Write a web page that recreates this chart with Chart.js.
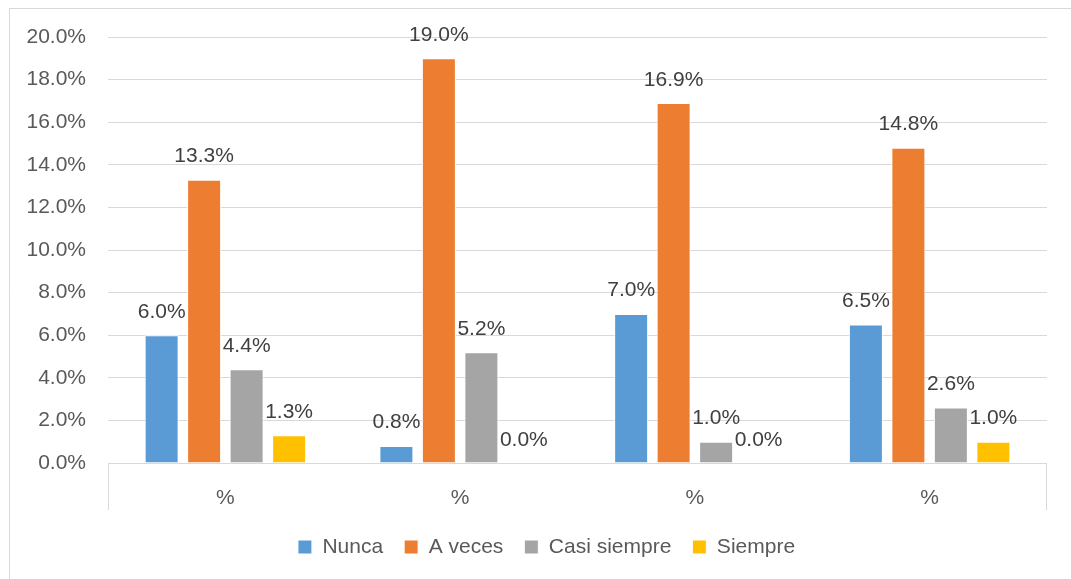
<!DOCTYPE html>
<html>
<head>
<meta charset="utf-8">
<script src="https://cdn.jsdelivr.net/npm/chart.js@4.4.1/dist/chart.umd.min.js"></script>
<style>
  html, body { margin: 0; padding: 0; background: #ffffff; }
  #wrap { position: relative; width: 1071px; height: 579px; }
</style>
</head>
<body>
<div id="wrap"><canvas id="c"></canvas></div>
<script>
const categories = ["%", "%", "%", "%"];
const nunca = [6.0, 0.8, 7.0, 6.5];
const aVeces = [13.3, 19.0, 16.9, 14.8];
const casiSiempre = [4.4, 5.2, 1.0, 2.6];
const siempre = [1.3, 0.0, 0.0, 1.0];
const seriesNames = ["Nunca", "A veces", "Casi siempre", "Siempre"];
const seriesColors = ["#5B9BD5", "#ED7D31", "#A5A5A5", "#FFC000"];
const seriesValues = [nunca, aVeces, casiSiempre, siempre];

const FONT = "'Liberation Sans', Arial, sans-serif";
const FS = 21;

const framePlugin = {
  id: 'frame',
  afterLayout(chart) {
    if (chart.legend) { chart.legend.left += 18; chart.legend.right += 18; }
  },
  beforeDraw(chart) {
    const ctx = chart.ctx;
    ctx.save();
    ctx.strokeStyle = '#d9d9d9';
    ctx.lineWidth = 1;
    ctx.beginPath();
    ctx.moveTo(9, 8.5); ctx.lineTo(1071, 8.5);
    ctx.moveTo(9.5, 8); ctx.lineTo(9.5, 579);
    ctx.stroke();
    ctx.restore();
  },
  afterDraw(chart) {
    const ctx = chart.ctx;
    const a = chart.chartArea;
    ctx.save();
    ctx.strokeStyle = '#d9d9d9';
    ctx.lineWidth = 1;
    ctx.beginPath();
    const l = Math.round(a.left) + 0.5, r = Math.round(a.right) - 0.5;
    ctx.moveTo(l, a.bottom); ctx.lineTo(l, a.bottom + 47);
    ctx.moveTo(r, a.bottom); ctx.lineTo(r, a.bottom + 47);
    ctx.stroke();
    ctx.restore();
  }
};

const labelPlugin = {
  id: 'barLabels',
  afterDatasetsDraw(chart) {
    const ctx = chart.ctx;
    ctx.save();
    ctx.font = FS + 'px ' + FONT;
    ctx.fillStyle = '#404040';
    ctx.textAlign = 'center';
    ctx.textBaseline = 'alphabetic';
    chart.data.datasets.forEach((ds, i) => {
      const meta = chart.getDatasetMeta(i);
      meta.data.forEach((bar, j) => {
        ctx.fillText(ds.data[j].toFixed(1) + '%', bar.x, bar.y - 17.5);
      });
    });
    ctx.restore();
  }
};

new Chart(document.getElementById('c'), {
  type: 'bar',
  data: {
    labels: categories,
    datasets: seriesNames.map((n, i) => ({
      label: n,
      data: seriesValues[i],
      backgroundColor: seriesColors[i],
      borderColor: '#ffffff',
      borderWidth: 1,
      categoryPercentage: 0.724,
      barPercentage: 0.8
    }))
  },
  options: {
    responsive: true,
    maintainAspectRatio: false,
    animation: false,
    layout: { padding: { top: 37, right: 24, bottom: 11.5, left: 10 } },
    plugins: {
      legend: {
        position: 'bottom',
        labels: {
          font: { family: FONT, size: FS },
          color: '#595959',
          boxWidth: 14,
          boxHeight: 14,
          padding: 21
        }
      },
      tooltip: { enabled: false }
    },
    scales: {
      x: {
        grid: { display: false, drawTicks: false },
        border: { display: false },
        ticks: { font: { family: FONT, size: FS, lineHeight: 1 }, color: '#595959', padding: 25 },
        afterFit: s => { s.height = 52.5; }
      },
      y: {
        min: 0,
        max: 20,
        ticks: {
          stepSize: 2,
          font: { family: FONT, size: FS },
          color: '#595959',
          padding: 22,
          callback: v => v.toFixed(1) + '%'
        },
        grid: { color: '#d9d9d9', drawTicks: false },
        border: { display: false },
        afterFit: s => { s.width = 98; }
      }
    }
  },
  plugins: [framePlugin, labelPlugin]
});
</script>
</body>
</html>
